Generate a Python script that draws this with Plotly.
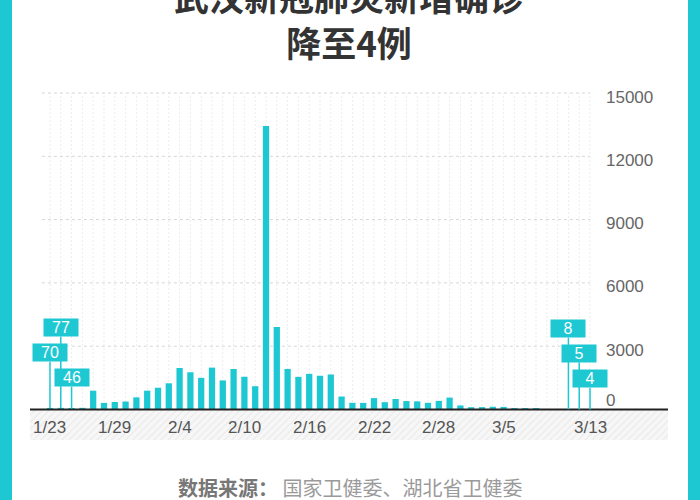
import plotly.graph_objects as go

# ---------------- data ----------------
dates = ['1/23', '1/24', '1/25', '1/26', '1/27', '1/28', '1/29', '1/30', '1/31',
         '2/1', '2/2', '2/3', '2/4', '2/5', '2/6', '2/7', '2/8', '2/9', '2/10',
         '2/11', '2/12', '2/13', '2/14', '2/15', '2/16', '2/17', '2/18', '2/19',
         '2/20', '2/21', '2/22', '2/23', '2/24', '2/25', '2/26', '2/27', '2/28',
         '2/29', '3/1', '3/2', '3/3', '3/4', '3/5', '3/6', '3/7', '3/8', '3/9',
         '3/10', '3/11', '3/12', '3/13']
new_cases = [70, 77, 46, 80, 892, 315, 356, 378, 576,
             894, 1033, 1242, 1967, 1766, 1501, 1985, 1379, 1921, 1552,
             1104, 13436, 3910, 1923, 1548, 1690, 1600, 1660, 615,
             319, 314, 541, 348, 499, 401, 387, 318, 409,
             565, 193, 111, 114, 131, 126, 74, 41, 36, 17,
             13, 8, 5, 4]
tick_labels = ['1/23', '1/29', '2/4', '2/10', '2/16', '2/22', '2/28', '3/5', '3/13']
y_ticks = [0, 3000, 6000, 9000, 12000, 15000]
callout_dates = ['1/23', '1/24', '1/25', '3/11', '3/12', '3/13']
title_lines = ['武汉新冠肺炎新增确诊', '降至4例']

# ---------------- style ----------------
CYAN = '#1ec8d3'
callout_levels = [2690, 3870, 1500, 3830, 2650, 1460]
x_range = [-1.85, 57.22]
y_range = [-1445, 15142]

x_idx = list(range(len(dates)))
pos = {d: i for i, d in enumerate(dates)}

fig = go.Figure()

# hatched band below the axis
fig.add_trace(go.Scatter(
    x=[x_range[0], x_range[1], x_range[1], x_range[0], x_range[0]],
    y=[y_range[0], y_range[0], 0, 0, y_range[0]],
    mode='none', fill='toself', fillcolor='#f5f5f5',
    fillpattern=dict(shape='/', fgcolor='#dedede', bgcolor='#f7f7f7', size=5, solidity=0.25),
    hoverinfo='skip', showlegend=False))

fig.add_trace(go.Bar(x=x_idx, y=new_cases, marker=dict(color=CYAN, line=dict(width=0)),
                     width=0.58, showlegend=False,
                     hovertext=dates, hovertemplate='%{hovertext}: %{y}<extra></extra>'))

shapes = []
for i in x_idx:
    shapes.append(dict(type='line', x0=i, x1=i, y0=0, y1=y_ticks[-1], xref='x', yref='y',
                       line=dict(color='#dadada', width=1, dash='1px,3px'), layer='below'))
for v in y_ticks[1:]:
    shapes.append(dict(type='line', x0=-0.75, x1=x_idx[-1], y0=v, y1=v, xref='x', yref='y',
                       line=dict(color='#d6d6d6', width=1, dash='3px,3px'), layer='below'))
# baseline
shapes.append(dict(type='line', x0=0, x1=1, y0=0, y1=0, xref='paper', yref='y',
                   line=dict(color='#222222', width=2), layer='above'))
# cyan frame strips
shapes.append(dict(type='rect', x0=-30 / 638, x1=-18 / 638, y0=-60 / 350, y1=90 / 350 + 1,
                   xref='paper', yref='paper', fillcolor=CYAN, line=dict(width=0)))
shapes.append(dict(type='rect', x0=658 / 638, x1=670 / 638, y0=-60 / 350, y1=90 / 350 + 1,
                   xref='paper', yref='paper', fillcolor=CYAN, line=dict(width=0)))

annotations = []
# callouts
for d, lvl in zip(callout_dates, callout_levels):
    i = pos[d]
    annotations.append(dict(
        x=i, y=new_cases[i], xref='x', yref='y', text=str(new_cases[i]),
        showarrow=True, arrowhead=0, arrowwidth=1.5, arrowcolor=CYAN, standoff=0,
        ax=0, axref='pixel', ay=lvl, ayref='y',
        bgcolor=CYAN, width=34, height=17, borderpad=0,
        font=dict(family='Liberation Sans, Noto Sans CJK SC', size=16, color='white')))
# x tick labels
for t in tick_labels:
    annotations.append(dict(x=pos[t], y=0, xref='x', yref='y', text=t, showarrow=False,
                            yanchor='middle', yshift=-18,
                            font=dict(family='Liberation Sans, Noto Sans CJK SC', size=17, color='#555555')))
# y tick labels
for v in y_ticks:
    annotations.append(dict(x=51.3, y=v, xref='x', yref='y', text=str(v), showarrow=False,
                            xanchor='left', yanchor='middle', yshift=(9 if v == 0 else -4),
                            font=dict(family='Liberation Sans, Noto Sans CJK SC', size=17, color='#666666')))
# title (two lines in one text)
annotations.append(dict(x=0.5 + 1 / 638, y=1, xref='paper', yref='paper',
                        text='<br>'.join('<b>%s</b>' % s for s in title_lines),
                        showarrow=False, yanchor='bottom', yshift=90 - 69,
                        font=dict(family='Noto Sans CJK SC', size=35, color='#333333')))
# source
annotations.append(dict(x=0.5 + 1 / 638, y=0, xref='paper', yref='paper',
                        text="<b><span style='color:#777777'>数据来源：</span></b> "
                             "<span style='color:#9a9a9a'>国家卫健委、湖北省卫健委</span>",
                        showarrow=False, yanchor='middle', yshift=-47,
                        font=dict(family='Noto Sans CJK SC', size=20)))

fig.update_layout(
    width=700, height=500, autosize=False,
    margin=dict(l=30, r=32, t=90, b=60, pad=0),
    paper_bgcolor='white', plot_bgcolor='white',
    xaxis=dict(range=x_range, showgrid=False, zeroline=False, showticklabels=False,
               showline=False, ticks=''),
    yaxis=dict(range=y_range, showgrid=False, zeroline=False, showticklabels=False,
               showline=False, ticks=''),
    shapes=shapes, annotations=annotations, bargap=0.4,
)

fig.write_html('out.html', config={'displayModeBar': False},
               post_script="document.body.style.margin='0';")
